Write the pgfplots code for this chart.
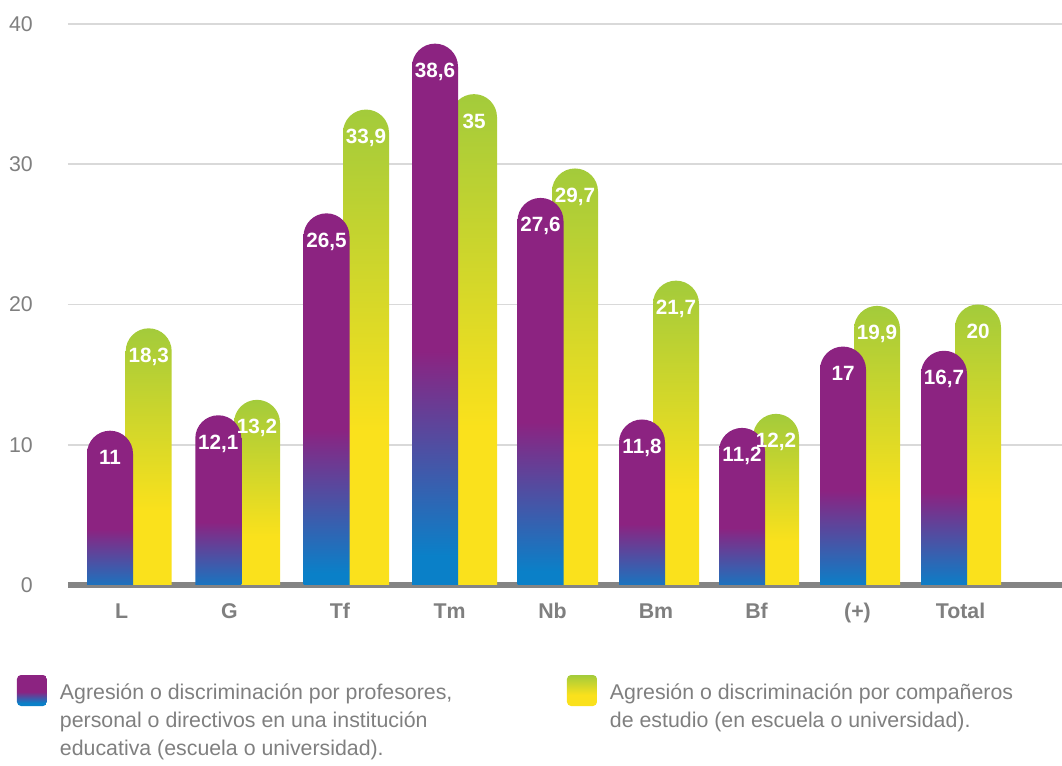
\documentclass[border=0pt]{standalone}
\usepackage{fontspec}
\setmainfont{Liberation Sans}
\usepackage{pgfplots}
\usepackage{pgfplotstable}
\pgfplotsset{compat=1.18}
\definecolor{cpurple}{HTML}{8C2381}
\definecolor{cblue}{HTML}{0A80C8}
\definecolor{cgreen}{HTML}{A3CB3B}
\definecolor{cyellow}{HTML}{FAE11C}
\definecolor{txtgray}{HTML}{7F7F7F}
\definecolor{gridgray}{HTML}{D9D9D9}
\definecolor{axgray}{HTML}{848484}
\pgfdeclareverticalshading{purpblue}{100bp}{color(0bp)=(cblue); color(30bp)=(cblue); color(48bp)=(cpurple); color(100bp)=(cpurple)}
\pgfdeclareverticalshading{greenyellow}{100bp}{color(0bp)=(cyellow); color(43bp)=(cyellow); color(75bp)=(cgreen); color(100bp)=(cgreen)}

\pgfplotstableread{
cat xp xg prof comp
L 110 148.7 11 18.3
G 218.3 257 12.1 13.2
Tf 326.5 366 26.5 33.9
Tm 435 474 38.6 35
Nb 540.5 575 27.6 29.7
Bm 642 676 11.8 21.7
Bf 742 776 11.2 12.2
(+) 843 877 17 19.9
Total 944 978 16.7 20
}\datatable

\begin{document}
\begin{tikzpicture}
\begin{axis}[
  at={(0,-21pt)}, anchor=south west,
  scale only axis, width=745.5pt, height=441.75pt,
  xmin=68, xmax=1062, ymin=0, ymax=42,
  set layers,
  ybar, bar width=46, bar shift=0pt,
  axis x line*=bottom, axis y line*=left,
  y axis line style={draw=none},
  x axis line style={draw=axgray, line width=4pt, yshift=21pt, /pgfplots/on layer=axis foreground},
  tick style={draw=none},
  ymajorgrids, major grid style={draw=gridgray, line width=1.2pt},
  ytick={2,12,22,32,42}, yticklabels={0,10,20,30,40},
  yticklabel style={anchor=east, inner sep=0pt, xshift=-26.25pt, font=\fontsize{16}{16}\selectfont, text=txtgray},
  xtick={121.7,229.5,340,449.5,552.5,656,756.5,857.5,960.5},
  xticklabels={L,G,Tf,Tm,Nb,Bm,Bf,(+),Total},
  xticklabel style={anchor=base, inner sep=0pt, yshift=0pt, font=\bfseries\fontsize{16}{16}\selectfont, text=txtgray},
  point meta=explicit,
  /pgf/number format/use comma,
  /pgf/number format/assume math mode=true,
  nodes near coords,
  every node near coord/.append style={text=white, font=\bfseries\fontsize{15.5}{15.5}\selectfont, anchor=base, yshift=-25.5pt, inner sep=0pt},
  legend columns=2,
  legend style={at={(axis description cs:-0.05131,-0.10526)}, anchor=north west, draw=none, fill=none, inner sep=0pt, outer sep=0pt, column sep=0pt, row sep=0pt, font=\fontsize{16}{21}\selectfont, text=txtgray, cells={anchor=base west}, nodes={inner sep=0pt}},
]
\clip (axis cs:0,2) rectangle (axis cs:2000,60);
\pgfplotsinvokeforeach{0,...,8}{
\addplot[draw=none, fill=none, shading=greenyellow, rounded corners=17.25pt, forget plot,
  restrict expr to domain={\coordindex}{#1:#1}]
  table[x=xg, y expr=\thisrow{comp}+2, meta=comp]{\datatable};
}
\pgfplotsinvokeforeach{0,...,8}{
\addplot[draw=none, fill=none, shading=purpblue, rounded corners=17.25pt, forget plot,
  restrict expr to domain={\coordindex}{#1:#1}]
  table[x=xp, y expr=\thisrow{prof}+2, meta=prof]{\datatable};
}
\addlegendimage{draw=none, legend image code/.code={\shade[shading=purpblue, rounded corners=3pt, draw=none] (0pt,-5.25pt) rectangle (22.5pt,18pt); \path[draw=none, fill=none] (0pt,0pt) -- (32.25pt,0pt);}}
\addlegendentry{\begin{tabular}[t]{@{}p{380.25pt}@{}}Agresión o discriminación por profesores,\\personal o directivos en una institución\\educativa (escuela o universidad).\end{tabular}}
\addlegendimage{draw=none, legend image code/.code={\shade[shading=greenyellow, rounded corners=3pt, draw=none] (0pt,-5.25pt) rectangle (22.5pt,18pt); \path[draw=none, fill=none] (0pt,0pt) -- (32.25pt,0pt);}}
\addlegendentry{\begin{tabular}[t]{@{}p{400pt}@{}}Agresión o discriminación por compañeros\\de estudio (en escuela o universidad).\end{tabular}}
\end{axis}
\pgfresetboundingbox
\useasboundingbox (-51pt,-135pt) rectangle (745.5pt,438.75pt);
\end{tikzpicture}
\end{document}
